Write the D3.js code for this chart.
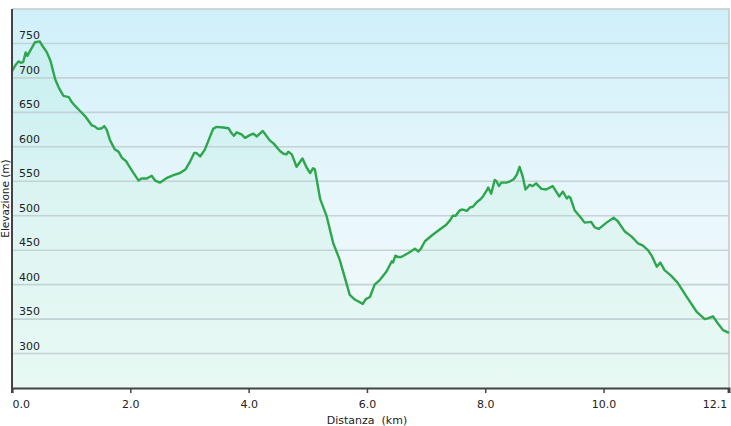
<!DOCTYPE html>
<html>
<head>
<meta charset="utf-8">
<script src="https://cdn.jsdelivr.net/npm/d3@7"></script>
<style>
html,body{margin:0;padding:0;background:#fff;}
svg{display:block;font-family:"DejaVu Sans",Verdana,sans-serif;}
</style>
</head>
<body>
<svg id="chart" width="731" height="426"></svg>
<script>
const distanceKm = [0,0.055,0.11,0.15,0.19,0.23,0.26,0.31,0.39,0.47,0.51,0.59,0.65,0.73,0.79,0.87,0.96,1.01,1.07,1.15,1.25,1.35,1.39,1.45,1.52,1.56,1.60,1.66,1.74,1.80,1.86,1.93,2.03,2.14,2.19,2.28,2.36,2.42,2.50,2.62,2.73,2.84,2.93,3.00,3.08,3.12,3.18,3.26,3.32,3.40,3.46,3.57,3.66,3.71,3.75,3.80,3.88,3.94,4.02,4.08,4.14,4.24,4.36,4.42,4.53,4.59,4.64,4.67,4.73,4.81,4.91,4.98,5.04,5.09,5.12,5.21,5.32,5.43,5.54,5.66,5.71,5.80,5.87,5.93,5.98,6.05,6.13,6.22,6.33,6.42,6.44,6.48,6.53,6.58,6.70,6.81,6.87,6.91,6.98,7.09,7.23,7.34,7.41,7.45,7.50,7.57,7.62,7.69,7.74,7.79,7.86,7.92,7.97,8.02,8.05,8.10,8.16,8.19,8.23,8.27,8.36,8.42,8.48,8.53,8.58,8.63,8.68,8.75,8.80,8.86,8.95,9.03,9.14,9.25,9.31,9.38,9.41,9.44,9.51,9.60,9.68,9.79,9.85,9.92,10.05,10.17,10.24,10.36,10.47,10.58,10.66,10.75,10.82,10.90,10.96,11.03,11.14,11.25,11.40,11.57,11.71,11.76,11.85,11.93,12.02,12.12];
const elevationM = [710,718,724,722,723,737,732,740,752,753,747,737,725,698,686,674,672,665,659,652,643,631,630,626,627,630,625,609,596,593,584,579,565,551,554,554,558,551,548,555,559,562,567,577,591,591,586,596,609,626,629,628,627,620,616,621,618,613,617,619,615,623,609,605,594,590,589,593,589,571,583,570,562,569,567,524,499,460,436,400,385,378,375,372,379,382,400,407,419,434,432,442,440,440,446,452,448,452,463,471,480,487,494,500,500,508,509,507,512,513,520,524,529,536,541,532,552,550,543,548,548,550,553,559,571,558,538,545,543,547,539,538,543,528,535,525,528,526,508,499,490,491,483,481,490,497,492,477,470,460,457,450,441,426,432,421,413,403,383,361,350,351,354,344,334,330];
const yTicks = [300,350,400,450,500,550,600,650,700,750];
const xTicks = [0,2,4,6,8,10,12.1];
const xTitle = "Distanza  (km)";
const yTitle = "Elevazione (m)";

(function(){
const svg = d3.select("#chart");
const L = 12, R = 729, T = 9, B = 388;
const x = d3.scaleLinear().domain([0, 12.12]).range([L, R]);
const y = d3.scaleLinear().domain([250, 800]).range([B, T]);

const defs = svg.append("defs");
const bg = defs.append("linearGradient").attr("id","bg").attr("x1",0).attr("y1",0).attr("x2",0).attr("y2",1);
bg.append("stop").attr("offset","0%").attr("stop-color","#cff0fa");
bg.append("stop").attr("offset","55%").attr("stop-color","#eaf7fb");
bg.append("stop").attr("offset","100%").attr("stop-color","#f3fbfa");
const ag = defs.append("linearGradient").attr("id","ag").attr("x1",0).attr("y1",0).attr("x2",0).attr("y2",1);
ag.append("stop").attr("offset","0%").attr("stop-color","#6ee0a6").attr("stop-opacity",0.12);
ag.append("stop").attr("offset","100%").attr("stop-color","#6ee0a6").attr("stop-opacity",0.08);

svg.append("rect").attr("x",L).attr("y",T).attr("width",R-L).attr("height",B-T).attr("fill","url(#bg)");

const data = distanceKm.map((d,i)=>({d, e: elevationM[i]}));

svg.append("path").datum(data)
  .attr("fill","url(#ag)")
  .attr("d", d3.area().x(p=>x(p.d)).y0(B).y1(p=>y(p.e)));

svg.append("g").selectAll("line").data(yTicks).join("line")
  .attr("x1",L).attr("x2",R)
  .attr("y1",d=>y(d)).attr("y2",d=>y(d))
  .attr("stroke","#c3d3d5").attr("stroke-width",1.6);

svg.append("path").attr("d",`M${L},${T}H${R}V${B}`).attr("fill","none").attr("stroke","#c4c8ca").attr("stroke-width",1.5);

svg.append("path").datum(data)
  .attr("fill","none").attr("stroke","#2ea64e").attr("stroke-width",2.4)
  .attr("stroke-linejoin","round")
  .attr("d", d3.line().x(p=>x(p.d)).y(p=>y(p.e)));

svg.append("g").selectAll("text").data(yTicks).join("text")
  .attr("x",19).attr("y",d=>y(d)-4)
  .attr("font-size",11).attr("fill","#222")
  .text(d=>d);

const xAxis = d3.axisBottom(x).tickValues(xTicks).tickSize(5).tickFormat(d3.format(".1f"));
const gx = svg.append("g").attr("transform",`translate(0,${B})`).call(xAxis);
gx.select(".domain").attr("stroke","#444").attr("stroke-width",2);
gx.selectAll(".tick line").attr("stroke","#444").attr("stroke-width",1.5);
gx.selectAll(".tick text").attr("font-size",11).attr("fill","#222").attr("font-family","DejaVu Sans").attr("dy","1.05em")
  .attr("text-anchor",(d,i)=> i===0 ? "start" : (i===xTicks.length-1 ? "end" : "middle"))
  .attr("x",(d,i)=> i===xTicks.length-1 ? -1 : 0);

svg.append("line").attr("x1",L).attr("x2",L).attr("y1",T).attr("y2",B+5)
  .attr("stroke","#444").attr("stroke-width",2);

svg.append("text").attr("x",367).attr("y",424).attr("text-anchor","middle")
  .attr("font-size",11).attr("fill","#222").style("white-space","pre").text(xTitle);
svg.append("text").attr("transform",`translate(9,${(T+B)/2}) rotate(-90)`).attr("text-anchor","middle")
  .attr("font-size",10.5).attr("fill","#222").text(yTitle);
})();
</script>
</body>
</html>
